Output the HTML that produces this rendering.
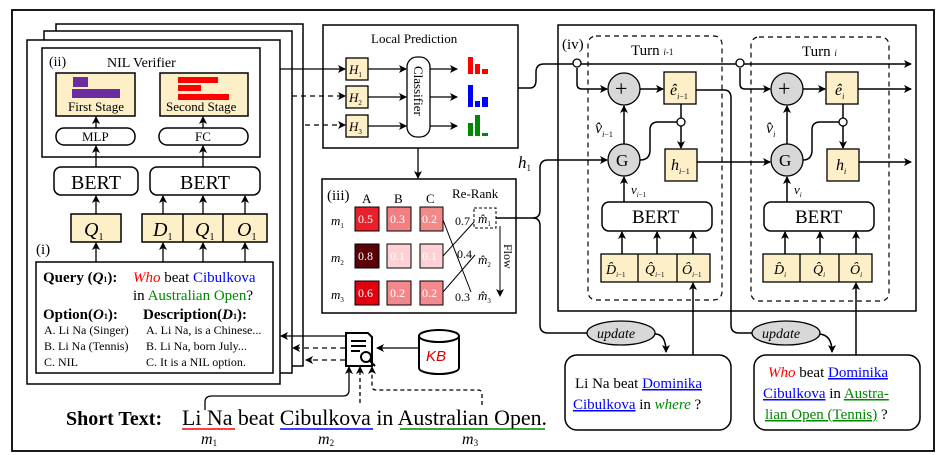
<!DOCTYPE html>
<html><head><meta charset="utf-8"><style>
html,body{margin:0;padding:0;background:#fff;}
svg{display:block;font-family:"Liberation Serif",serif;}
</style></head><body>
<svg width="943" height="455" viewBox="0 0 943 455" xmlns="http://www.w3.org/2000/svg">
<defs>
<marker id="a" markerWidth="8" markerHeight="8" refX="7" refY="4" orient="auto" markerUnits="userSpaceOnUse"><path d="M0,0 L8,4 L0,8 L2,4 Z" fill="#000"/></marker>
</defs>
<g fill="none" stroke="#000" stroke-width="1.5">
<rect x="12" y="10" width="922" height="441" stroke-width="1.8"/>
<rect x="56" y="24" width="247" height="342" fill="#fff"/>
<rect x="44" y="31" width="248" height="342" fill="#fff"/>
<rect x="27" y="40" width="253" height="344" fill="#fff"/>
<rect x="42" y="48" width="218" height="109"/>
<rect x="56" y="73" width="79" height="43" fill="#fdf0c8"/>
<rect x="160" y="73" width="88" height="43" fill="#fdf0c8"/>
<rect x="56" y="128" width="79" height="17" rx="8"/>
<rect x="159" y="128" width="89" height="17" rx="8"/>
<rect x="54" y="167" width="84" height="28" rx="7"/>
<rect x="150" y="167" width="110" height="28" rx="7"/>
<rect x="71" y="214" width="50" height="28" fill="#fdf0c8"/>
<rect x="142" y="214" width="125" height="28" fill="#fdf0c8"/>
<line x1="183" y1="214" x2="183" y2="242"/><line x1="223" y1="214" x2="223" y2="242"/>
<rect x="36" y="262" width="237" height="111"/>
</g>
<rect x="73" y="77" width="15" height="10" fill="#6a2c9e"/>
<rect x="72" y="89" width="48" height="9" fill="#6a2c9e"/>
<rect x="178" y="77" width="40" height="6" fill="#f00"/>
<rect x="178" y="85" width="23" height="6" fill="#f00"/>
<rect x="178" y="94" width="51" height="6" fill="#f00"/>
<g stroke="#000" stroke-width="1.3" marker-end="url(#a)">
<line x1="96" y1="262" x2="96" y2="243"/><line x1="163" y1="262" x2="163" y2="243"/><line x1="203" y1="262" x2="203" y2="243"/><line x1="245" y1="262" x2="245" y2="243"/>
<line x1="96" y1="214" x2="96" y2="196"/><line x1="163" y1="214" x2="163" y2="196"/><line x1="203" y1="214" x2="203" y2="196"/><line x1="245" y1="214" x2="245" y2="196"/>
<line x1="96" y1="167" x2="96" y2="146"/><line x1="203" y1="167" x2="203" y2="146"/>
<line x1="96" y1="128" x2="96" y2="117"/><line x1="203" y1="128" x2="203" y2="117"/>
</g>
<g font-size="14">
<text x="49" y="66">(ii)</text><text x="107" y="67">NIL Verifier</text>
<text x="68" y="111" font-size="13">First Stage</text><text x="166" y="111" font-size="13">Second Stage</text>
<text x="82" y="141" font-size="13">MLP</text><text x="195" y="141" font-size="13">FC</text>
<text x="71" y="189" font-size="20">BERT</text><text x="180" y="189" font-size="20">BERT</text>
<text x="84" y="236" font-size="20" font-style="italic">Q<tspan font-size="10" font-style="normal" dy="4">1</tspan></text>
<text x="153" y="236" font-size="20" font-style="italic">D<tspan font-size="10" font-style="normal" dy="4">1</tspan></text>
<text x="195" y="236" font-size="20" font-style="italic">Q<tspan font-size="10" font-style="normal" dy="4">1</tspan></text>
<text x="237" y="236" font-size="20" font-style="italic">O<tspan font-size="10" font-style="normal" dy="4">1</tspan></text>
<text x="36" y="254" font-size="15">(i)</text>
<text x="43" y="282" font-weight="bold" font-size="15">Query (<tspan font-style="italic">Q</tspan><tspan font-size="8">1</tspan>):</text>
<text x="133" y="282" font-size="15"><tspan fill="#f00" font-style="italic">Who</tspan> beat <tspan fill="#00f">Cibulkova</tspan></text>
<text x="133" y="300" font-size="15">in <tspan fill="#080">Australian Open</tspan>?</text>
<text x="43" y="319" font-weight="bold" font-size="15">Option(<tspan font-style="italic">O</tspan><tspan font-size="8">1</tspan>):</text>
<text x="143" y="319" font-weight="bold" font-size="15">Description(<tspan font-style="italic">D</tspan><tspan font-size="8">1</tspan>):</text>
<g font-size="12"><text x="44" y="334">A. Li Na (Singer)</text><text x="44" y="350">B. Li Na (Tennis)</text><text x="44" y="366">C. NIL</text>
<text x="146" y="334">A. Li Na, is a Chinese...</text><text x="146" y="350">B. Li Na, born July...</text><text x="146" y="366">C. It is a NIL option.</text></g>
</g>
<g stroke="#000" stroke-width="1.3" fill="none">
<line x1="280" y1="69" x2="345" y2="69" marker-end="url(#a)"/>
<line x1="292" y1="96" x2="345" y2="96" stroke-dasharray="5,4" marker-end="url(#a)"/>
<line x1="305" y1="125" x2="345" y2="125" stroke-dasharray="5,4" marker-end="url(#a)"/>
<rect x="323" y="25" width="195" height="123" stroke-width="1.5"/>
<rect x="346" y="58" width="22" height="22" fill="#fdf0c8"/>
<rect x="346" y="86" width="22" height="22" fill="#fdf0c8"/>
<rect x="346" y="115" width="22" height="22" fill="#fdf0c8"/>
<rect x="407" y="57" width="23" height="80" rx="10"/>
<line x1="368" y1="69" x2="406" y2="69" marker-end="url(#a)"/>
<line x1="368" y1="97" x2="406" y2="97" marker-end="url(#a)"/>
<line x1="368" y1="126" x2="406" y2="126" marker-end="url(#a)"/>
<line x1="430" y1="69" x2="457" y2="69" marker-end="url(#a)"/>
<line x1="430" y1="97" x2="457" y2="97" marker-end="url(#a)"/>
<line x1="430" y1="126" x2="457" y2="126" marker-end="url(#a)"/>
<line x1="418" y1="148" x2="418" y2="178" marker-end="url(#a)"/>
<rect x="322" y="179" width="194" height="134" stroke-width="1.5"/>
</g>
<text x="371" y="43" font-size="13">Local Prediction</text>
<g font-size="13" font-style="italic"><text x="349" y="74">H<tspan font-size="7" font-style="normal" dy="3">1</tspan></text><text x="349" y="102">H<tspan font-size="7" font-style="normal" dy="3">2</tspan></text><text x="349" y="131">H<tspan font-size="7" font-style="normal" dy="3">3</tspan></text></g>
<text transform="translate(414,66) rotate(90)" font-size="13">Classifier</text>
<rect x="468" y="57" width="5" height="17" fill="#f00"/><rect x="475" y="64" width="5" height="10" fill="#f00"/><rect x="482" y="69" width="6" height="5" fill="#f00"/>
<rect x="468" y="85" width="5" height="22" fill="#00f"/><rect x="475" y="101" width="5" height="6" fill="#00f"/><rect x="482" y="97" width="6" height="10" fill="#00f"/>
<rect x="468" y="123" width="5" height="13" fill="#080"/><rect x="475" y="115" width="5" height="21" fill="#080"/><rect x="482" y="133" width="6" height="3" fill="#080"/>
<text x="327" y="200" font-size="15">(iii)</text>
<g font-size="13"><text x="362" y="203">A</text><text x="394" y="203">B</text><text x="426" y="203">C</text><text x="452" y="198">Re-Rank</text></g>
<g stroke="#000" stroke-width="1">
<rect x="355" y="207" width="24" height="24" fill="#e8202c"/><rect x="387" y="207" width="24" height="24" fill="#f08084"/><rect x="420" y="207" width="23" height="24" fill="#f28a8c"/>
<rect x="355" y="244" width="24" height="24" fill="#5a0008"/><rect x="387" y="244" width="24" height="24" fill="#fcd0d4"/><rect x="420" y="244" width="23" height="24" fill="#fcd0d4"/>
<rect x="355" y="281" width="24" height="24" fill="#e2000e"/><rect x="387" y="281" width="24" height="24" fill="#f2888c"/><rect x="420" y="281" width="23" height="24" fill="#f58a8e"/>
</g>
<g fill="#fff" font-size="12"><text x="358" y="223">0.5</text><text x="390" y="223">0.3</text><text x="422" y="223">0.2</text><text x="358" y="260">0.8</text><text x="390" y="260">0.1</text><text x="422" y="260">0.1</text><text x="358" y="297">0.6</text><text x="390" y="297">0.2</text><text x="422" y="297">0.2</text></g>
<g font-size="13" font-style="italic"><text x="331" y="225">m<tspan font-size="7" font-style="normal" dy="3">1</tspan></text><text x="331" y="262">m<tspan font-size="7" font-style="normal" dy="3">2</tspan></text><text x="331" y="299">m<tspan font-size="7" font-style="normal" dy="3">3</tspan></text>
<text x="478" y="223">m̂<tspan font-size="7" font-style="normal" dy="3">1</tspan></text><text x="478" y="264">m̂<tspan font-size="7" font-style="normal" dy="3">2</tspan></text><text x="478" y="300">m̂<tspan font-size="7" font-style="normal" dy="3">3</tspan></text></g>
<g font-size="12"><text x="455" y="225">0.7</text><text x="457" y="258">0.4</text><text x="455" y="301">0.3</text></g>
<g stroke="#000" stroke-width="1" fill="none">
<rect x="474" y="208" width="22" height="20" stroke-dasharray="3,2"/>
<line x1="443" y1="220" x2="471" y2="292"/><line x1="443" y1="256" x2="474" y2="222"/><line x1="443" y1="292" x2="475" y2="255"/>
<line x1="500" y1="226" x2="500" y2="296" marker-end="url(#a)"/>
</g>
<text transform="translate(504,244) rotate(90)" font-size="12">Flow</text>
<g stroke="#000" stroke-width="2" fill="#fff">
<path d="M346,333 L368,333 L372,337 L372,366 L346,366 Z"/>
<line x1="351" y1="341" x2="366" y2="341"/><line x1="351" y1="346" x2="366" y2="346"/><line x1="351" y1="351" x2="360" y2="351"/>
<circle cx="366" cy="357" r="5"/><line x1="370" y1="361" x2="375" y2="366"/>
<path d="M419,336 L419,368 A20,6 0 0 0 459,368 L459,336" />
<ellipse cx="439" cy="336" rx="20" ry="6"/>
</g>
<text x="426" y="361" fill="#d00" font-size="15" font-style="italic" font-family="Liberation Sans,sans-serif">KB</text>
<g stroke="#000" stroke-width="1.3" fill="none">
<line x1="418" y1="348" x2="377" y2="348" marker-end="url(#a)"/>
<line x1="345" y1="336" x2="281" y2="336" marker-end="url(#a)"/>
<line x1="345" y1="348" x2="293" y2="348" stroke-dasharray="5,4" marker-end="url(#a)"/>
<line x1="345" y1="360" x2="306" y2="360" stroke-dasharray="5,4" marker-end="url(#a)"/>
<path d="M205,410 L205,402 Q205,396 212,396 L343,396 Q349,396 349,390 L349,367" marker-end="url(#a)"/>
<line x1="360" y1="403" x2="360" y2="367" stroke-dasharray="4,3" marker-end="url(#a)"/>
<path d="M482,405 L482,394 Q482,390 478,390 L376,390 Q372,390 372,386 L372,367" stroke-dasharray="4,3" marker-end="url(#a)"/>
</g>
<text x="66" y="425" font-size="20" font-weight="bold">Short Text:</text>
<text x="182" y="425" font-size="21.8" textLength="365" lengthAdjust="spacingAndGlyphs">Li Na beat Cibulkova in Australian Open.</text>
<line x1="182" y1="429" x2="235" y2="429" stroke="#f00" stroke-width="1.5"/>
<line x1="280" y1="429" x2="373" y2="429" stroke="#00f" stroke-width="1.5"/>
<line x1="400" y1="429" x2="545" y2="429" stroke="#080" stroke-width="1.5"/>
<g font-size="16" font-style="italic"><text x="201" y="444">m<tspan font-size="9" font-style="normal" dy="2">1</tspan></text><text x="318" y="444">m<tspan font-size="9" font-style="normal" dy="2">2</tspan></text><text x="462" y="444">m<tspan font-size="9" font-style="normal" dy="2">3</tspan></text></g>
<g stroke="#000" stroke-width="1.5" fill="none">
<path d="M518,88 L530,88 Q536,88 536,80 L536,72 Q536,64 544,64 L573,64"/>
<path d="M496,218 L533,218 Q540,218 540,210 L540,168 Q540,160 548,160 L607,160" marker-end="url(#a)"/>
<path d="M533,218 Q540,218 540,226 L540,325 Q540,333 548,333 L589,333"/>
<rect x="558" y="25" width="358" height="286" stroke-width="1.5"/>
<rect x="588" y="36" width="134" height="264" rx="8" stroke-dasharray="5,4" stroke-width="1.2"/>
<rect x="751" y="37" width="138" height="264" rx="8" stroke-dasharray="5,4" stroke-width="1.2"/>
<line x1="581" y1="64" x2="736" y2="64"/>
<line x1="744" y1="64" x2="911" y2="64" marker-end="url(#a)"/>
<path d="M577,68 L577,84 Q577,89 582,89 L607,89" marker-end="url(#a)"/>
<path d="M740,68 L740,84 Q740,89 745,89 L770,89" marker-end="url(#a)"/>
<line x1="640" y1="89" x2="663" y2="89" marker-end="url(#a)"/>
<line x1="803" y1="89" x2="825" y2="89" marker-end="url(#a)"/>
<line x1="858" y1="89" x2="911" y2="89" marker-end="url(#a)"/>
<path d="M696,90 L724,90 Q731,90 731,98 L731,325 Q731,333 739,333 L752,333"/>
<line x1="624" y1="144" x2="624" y2="106" marker-end="url(#a)"/>
<line x1="787" y1="144" x2="787" y2="106" marker-end="url(#a)"/>
<line x1="681" y1="104" x2="681" y2="118"/><line x1="681" y1="126" x2="681" y2="148" marker-end="url(#a)"/>
<line x1="843" y1="104" x2="843" y2="118"/><line x1="843" y1="126" x2="843" y2="148" marker-end="url(#a)"/>
<path d="M640,160 Q650,160 650,150 L650,130 Q650,122 658,122 L677,122"/>
<path d="M803,160 Q812,160 812,150 L812,130 Q812,122 820,122 L839,122"/>
<line x1="697" y1="162" x2="770" y2="162" marker-end="url(#a)"/>
<line x1="859" y1="162" x2="911" y2="162" marker-end="url(#a)"/>
<line x1="624" y1="202" x2="624" y2="177" marker-end="url(#a)"/>
<line x1="787" y1="202" x2="787" y2="177" marker-end="url(#a)"/>
<rect x="602" y="202" width="110" height="29" rx="7"/>
<rect x="764" y="202" width="110" height="29" rx="7"/>
<line x1="622" y1="254" x2="622" y2="232" marker-end="url(#a)"/><line x1="657" y1="254" x2="657" y2="232" marker-end="url(#a)"/><line x1="693" y1="254" x2="693" y2="232" marker-end="url(#a)"/>
<line x1="785" y1="254" x2="785" y2="232" marker-end="url(#a)"/><line x1="820" y1="254" x2="820" y2="232" marker-end="url(#a)"/><line x1="856" y1="254" x2="856" y2="232" marker-end="url(#a)"/>
<line x1="693" y1="355" x2="693" y2="283" marker-end="url(#a)"/>
<line x1="856" y1="355" x2="856" y2="283" marker-end="url(#a)"/>
<path d="M655,334 Q666,334 666,352" marker-end="url(#a)"/>
<path d="M818,334 Q832,334 832,352" marker-end="url(#a)"/>
<rect x="565" y="355" width="166" height="75" rx="12"/>
<rect x="754" y="355" width="166" height="75" rx="12"/>
</g>
<g stroke="#000" stroke-width="1.3">
<rect x="664" y="72" width="32" height="32" fill="#fdf0c8"/><rect x="826" y="72" width="32" height="32" fill="#fdf0c8"/>
<rect x="665" y="149" width="32" height="32" fill="#fdf0c8"/><rect x="827" y="149" width="32" height="32" fill="#fdf0c8"/>
<rect x="601" y="254" width="109" height="28" fill="#fdf0c8"/><rect x="763" y="254" width="109" height="28" fill="#fdf0c8"/>
<line x1="638" y1="254" x2="638" y2="282"/><line x1="677" y1="254" x2="677" y2="282"/>
<line x1="800" y1="254" x2="800" y2="282"/><line x1="839" y1="254" x2="839" y2="282"/>
<circle cx="624" cy="89" r="16" fill="#d8d8d8"/><circle cx="787" cy="89" r="16" fill="#d8d8d8"/>
<circle cx="624" cy="160" r="16" fill="#d8d8d8"/><circle cx="787" cy="160" r="16" fill="#d8d8d8"/>
<circle cx="577" cy="63" r="4" fill="#fff"/><circle cx="740" cy="63" r="4" fill="#fff"/>
<circle cx="681" cy="122" r="4" fill="#fff"/><circle cx="843" cy="122" r="4" fill="#fff"/>
<ellipse cx="621" cy="333" rx="34" ry="12" fill="#d8d8d8"/><ellipse cx="786" cy="333" rx="34" ry="12" fill="#d8d8d8"/>
</g>
<g font-size="15">
<text x="518" y="168" font-size="17" font-style="italic">h<tspan font-size="9" font-style="normal" dy="3">1</tspan></text>
<text x="562" y="49">(iv)</text>
<text x="631" y="55">Turn <tspan font-size="9" font-style="italic">i</tspan><tspan font-size="9">-1</tspan></text>
<text x="802" y="56">Turn <tspan font-size="9" font-style="italic">i</tspan></text>
<text x="615" y="96" font-size="22">+</text><text x="778" y="96" font-size="22">+</text>
<text x="616" y="166" font-size="17">G</text><text x="779" y="166" font-size="17">G</text>
<text x="670" y="95" font-size="16" font-style="italic">ê<tspan font-size="8" dy="4">i</tspan><tspan font-size="8" font-style="normal">−1</tspan></text>
<text x="835" y="95" font-size="16" font-style="italic">ê<tspan font-size="8" dy="4">i</tspan></text>
<text x="671" y="170" font-size="16" font-style="italic">h<tspan font-size="8" dy="4">i</tspan><tspan font-size="8" font-style="normal">−1</tspan></text>
<text x="836" y="170" font-size="16" font-style="italic">h<tspan font-size="8" dy="4">i</tspan></text>
<text x="595" y="133" font-size="16" font-style="italic">v̂<tspan font-size="8" dy="4">i</tspan><tspan font-size="8" font-style="normal">−1</tspan></text>
<text x="766" y="133" font-size="16" font-style="italic">v̂<tspan font-size="8" dy="4">i</tspan></text>
<text x="631" y="194" font-size="13" font-style="italic">v<tspan font-size="7" dy="3">i</tspan><tspan font-size="7" font-style="normal">−1</tspan></text>
<text x="794" y="194" font-size="13" font-style="italic">v<tspan font-size="7" dy="3">i</tspan></text>
<text x="632" y="223" font-size="19">BERT</text><text x="795" y="223" font-size="19">BERT</text>
<g font-size="14" font-style="italic">
<text x="606" y="274">D̂<tspan font-size="7" dy="3">i</tspan><tspan font-size="7" font-style="normal">−1</tspan></text>
<text x="645" y="274">Q̂<tspan font-size="7" dy="3">i</tspan><tspan font-size="7" font-style="normal">−1</tspan></text>
<text x="682" y="274">Ô<tspan font-size="7" dy="3">i</tspan><tspan font-size="7" font-style="normal">−1</tspan></text>
<text x="774" y="274">D̂<tspan font-size="7" dy="3">i</tspan></text>
<text x="813" y="274">Q̂<tspan font-size="7" dy="3">i</tspan></text>
<text x="850" y="274">Ô<tspan font-size="7" dy="3">i</tspan></text>
</g>
<text x="597" y="338" font-size="14" font-style="italic">update</text>
<text x="762" y="338" font-size="14" font-style="italic">update</text>
<text x="575" y="388" font-size="15">Li Na beat <tspan fill="#00f" text-decoration="underline">Dominika</tspan></text>
<text x="573" y="409" font-size="15"><tspan fill="#00f" text-decoration="underline">Cibulkova</tspan> in <tspan fill="#080" font-style="italic">where</tspan> ?</text>
<text x="768" y="377" font-size="15"><tspan fill="#f00" font-style="italic">Who</tspan> beat <tspan fill="#00f" text-decoration="underline">Dominika</tspan></text>
<text x="763" y="398" font-size="15"><tspan fill="#00f" text-decoration="underline">Cibulkova</tspan> in <tspan fill="#080" text-decoration="underline">Austra-</tspan></text>
<text x="765" y="419" font-size="15"><tspan fill="#080" text-decoration="underline">lian Open (Tennis)</tspan> ?</text>
</g>
</svg>
</body></html>
